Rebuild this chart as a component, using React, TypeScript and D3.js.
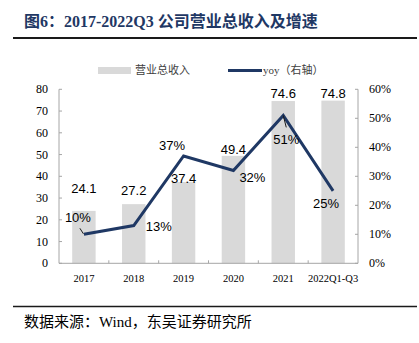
import React from "react";
import * as d3 from "d3";

const categories = ["2017", "2018", "2019", "2020", "2021", "2022Q1-Q3"];
const revenue = [24.1, 27.2, 37.4, 49.4, 74.6, 74.8];
const yoy = [10, 13, 37, 32, 51, 25];
const revenueLabels = ["24.1", "27.2", "37.4", "49.4", "74.6", "74.8"];
const yoyLabels = ["10%", "13%", "37%", "32%", "51%", "25%"];
const leftTicks = [0, 10, 20, 30, 40, 50, 60, 70, 80];
const rightTicks = [0, 10, 20, 30, 40, 50, 60];

// label layout offsets (not data)
const barLabelDy = [-18, -9, 1.5, -1.5, -3, -2.5];
const lineLabelOffset: [number, number][] = [
  [-6, -12],
  [25, 5],
  [-11.5, -6.5],
  [19, 11.5],
  [3, 28.5],
  [-7, 17],
];

const W = 419;
const H = 343;
const plot = { left: 59, right: 358, top: 89.3, bottom: 263.3 };
const navy = "#1f3864";
const barColor = "#d9d9d9";
const axisColor = "#a6a6a6";
const serif = "'Times New Roman', 'Liberation Serif', 'Noto Sans CJK SC', serif";
const cjk = "'Liberation Serif', 'Noto Sans CJK SC', serif";
const sans = "Arial, 'Liberation Sans', sans-serif";

export default function App() {
  const x = d3.scaleBand<string>().domain(categories).range([plot.left, plot.right]).padding(0);
  const yL = d3.scaleLinear().domain([0, 80]).range([plot.bottom, plot.top]);
  const yR = d3.scaleLinear().domain([0, 60]).range([plot.bottom, plot.top]);
  const bw = x.bandwidth() * 0.47;
  const cx = (c: string) => (x(c) as number) + x.bandwidth() / 2;

  const line = d3
    .line<number>()
    .x((_, i) => cx(categories[i]))
    .y((d) => yR(d));

  const p0 = { x: cx(categories[0]), y: yR(yoy[0]) };
  const p4 = { x: cx(categories[4]), y: yR(yoy[4]) };

  return (
    <svg width={W} height={H} style={{ position: "absolute", left: 0, top: 0, background: "#fff" }}>
      {/* title */}
      <text x={24} y={27} fontFamily={cjk} fontWeight="bold" fontSize={16} fill={navy}>
        图6：2017-2022Q3 公司营业总收入及增速
      </text>
      <line x1={13} x2={417} y1={38} y2={38} stroke="#1a1a1a" strokeWidth={2} />

      {/* legend */}
      <rect x={98} y={67} width={33} height={7} fill={barColor} />
      <text x={135} y={74} fontFamily={cjk} fontSize={11} fill="#404040">
        营业总收入
      </text>
      <line x1={228} x2={262} y1={70.5} y2={70.5} stroke={navy} strokeWidth={3} />
      <text x={263} y={74} fontFamily={cjk} fontSize={11} fill="#404040">
        yoy（右轴）
      </text>

      {/* bars */}
      {revenue.map((v, i) => (
        <rect
          key={categories[i]}
          x={cx(categories[i]) - bw / 2}
          y={yL(v)}
          width={bw}
          height={plot.bottom - yL(v)}
          fill={barColor}
        />
      ))}

      {/* axes */}
      <line x1={plot.left} x2={plot.left} y1={plot.top} y2={plot.bottom} stroke={axisColor} />
      <line x1={plot.right} x2={plot.right} y1={plot.top} y2={plot.bottom} stroke={axisColor} />
      <line x1={plot.left} x2={plot.right} y1={plot.bottom} y2={plot.bottom} stroke={axisColor} />
      {leftTicks.map((t) => (
        <g key={"l" + t}>
          <line x1={plot.left} x2={plot.left + 3} y1={yL(t)} y2={yL(t)} stroke={axisColor} />
          <text x={48} y={yL(t) + 4} textAnchor="end" fontFamily={serif} fontSize={12} fill="#000">
            {t}
          </text>
        </g>
      ))}
      {rightTicks.map((t) => (
        <g key={"r" + t}>
          <line x1={plot.right - 3} x2={plot.right} y1={yR(t)} y2={yR(t)} stroke={axisColor} />
          <text x={369} y={yR(t) + 4} textAnchor="start" fontFamily={serif} fontSize={12} fill="#000">
            {t}%
          </text>
        </g>
      ))}
      {categories.slice(1).map((c) => (
        <line
          key={"xt" + c}
          x1={x(c) as number}
          x2={x(c) as number}
          y1={plot.bottom}
          y2={plot.bottom - 3}
          stroke={axisColor}
        />
      ))}
      {categories.map((c) => (
        <text key={"xl" + c} x={cx(c)} y={282} textAnchor="middle" fontFamily={serif} fontSize={10.5} fill="#000">
          {c}
        </text>
      ))}

      {/* bar labels */}
      {revenue.map((v, i) => (
        <text
          key={"bl" + i}
          x={cx(categories[i])}
          y={yL(v) + barLabelDy[i]}
          textAnchor="middle"
          fontFamily={sans}
          fontSize={13}
          fill="#000"
        >
          {revenueLabels[i]}
        </text>
      ))}

      {/* yoy line */}
      <path d={line(yoy) || ""} fill="none" stroke={navy} strokeWidth={3} strokeLinejoin="miter" />

      {/* leader lines */}
      <line x1={p0.x - 4} y1={p0.y - 6} x2={p0.x - 0.5} y2={p0.y - 0.5} stroke="#1a1a1a" strokeWidth={1} />
      <line x1={p4.x} y1={p4.y} x2={p4.x + 3} y2={p4.y + 12} stroke="#1a1a1a" strokeWidth={1} />

      {/* line labels */}
      {yoy.map((v, i) => (
        <text
          key={"ll" + i}
          x={cx(categories[i]) + lineLabelOffset[i][0]}
          y={yR(v) + lineLabelOffset[i][1]}
          textAnchor="middle"
          fontFamily={sans}
          fontSize={13}
          fill="#000"
        >
          {yoyLabels[i]}
        </text>
      ))}

      {/* source */}
      <line x1={13} x2={417} y1={306.5} y2={306.5} stroke="#1a1a1a" strokeWidth={1.5} />
      <text x={24} y={327} fontFamily={cjk} fontSize={15} fill="#000">
        数据来源：Wind，东吴证券研究所
      </text>
    </svg>
  );
}
